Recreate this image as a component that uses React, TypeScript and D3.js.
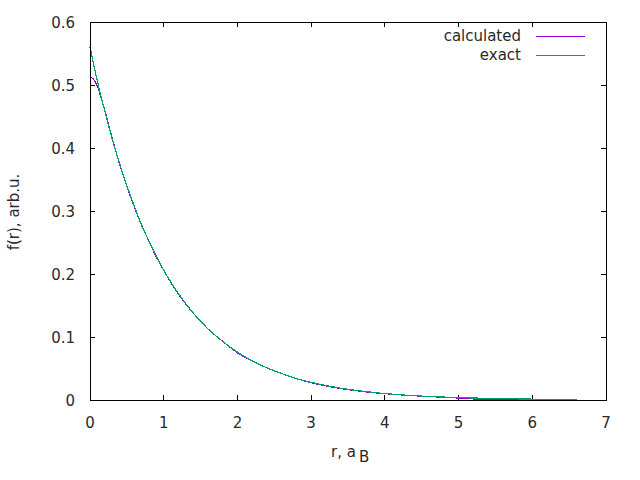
import { useEffect, useRef } from "react";
import * as d3 from "d3";

// r values (a_B) and curves
const rExact = [
  0, 0.1, 0.2, 0.3, 0.4, 0.5, 0.6, 0.7, 0.8, 0.9, 1.0, 1.2, 1.4, 1.6, 1.8, 2.0,
  2.2, 2.4, 2.6, 2.8, 3.0, 3.4, 3.8, 4.2, 4.6, 5.0, 5.5, 6.0, 6.6,
];
const fExact = [
  0.56, 0.506, 0.459, 0.415, 0.376, 0.34, 0.308, 0.278, 0.252, 0.228, 0.206,
  0.169, 0.138, 0.113, 0.093, 0.076, 0.062, 0.051, 0.042, 0.034, 0.028, 0.0188,
  0.0126, 0.0084, 0.0056, 0.0038, 0.0023, 0.0014, 0.0008,
];

const rCalc = [
  0, 0.03, 0.06, 0.1, 0.15, 0.2, 0.3, 0.4, 0.5, 0.6, 0.7, 0.8, 0.9, 1.0, 1.2,
  1.4, 1.6, 1.8, 2.0, 2.2, 2.4, 2.6, 2.9, 3.4, 3.8, 4.2, 4.6, 4.95, 5.4, 6.0,
  6.6,
];
const fCalc = [
  0.512, 0.511, 0.507, 0.498, 0.48, 0.46, 0.416, 0.375, 0.339, 0.307, 0.277,
  0.252, 0.227, 0.206, 0.168, 0.138, 0.113, 0.093, 0.075, 0.062, 0.051, 0.042,
  0.0305, 0.0182, 0.0122, 0.0082, 0.0055, 0.0034, 0.0008, 0.0006, 0.0005,
];

const xTicks = [0, 1, 2, 3, 4, 5, 6, 7];
const yTicks = [0, 0.1, 0.2, 0.3, 0.4, 0.5, 0.6];

const seriesNames = ["calculated", "exact"];
const seriesColors = ["#9400d3", "#009e73"];

const font = "'DejaVu Sans', sans-serif";

const Chart = () => {
  const chartRef = useRef<SVGSVGElement | null>(null);

  useEffect(() => {
    const svg = d3.select(chartRef.current).attr("width", 640).attr("height", 480);
    svg.selectAll("*").remove();

    const left = 90, right = 606, top = 22, bottom = 400;

    const x = d3.scaleLinear().domain([0, 7]).range([left, right]);
    const y = d3.scaleLinear().domain([0, 0.6]).range([bottom, top]);

    svg.append("rect").attr("width", 640).attr("height", 480).attr("fill", "#fff");

    const tickLen = 5;
    const axes = svg.append("g").attr("stroke", "#000").attr("stroke-width", 1)
      .attr("shape-rendering", "crispEdges");

    xTicks.forEach((t) => {
      axes.append("line").attr("x1", x(t)).attr("x2", x(t))
        .attr("y1", bottom).attr("y2", bottom - tickLen);
      axes.append("line").attr("x1", x(t)).attr("x2", x(t))
        .attr("y1", top).attr("y2", top + tickLen);
    });
    yTicks.forEach((t) => {
      axes.append("line").attr("x1", left).attr("x2", left + tickLen)
        .attr("y1", y(t)).attr("y2", y(t));
      axes.append("line").attr("x1", right).attr("x2", right - tickLen)
        .attr("y1", y(t)).attr("y2", y(t));
    });

    const text = svg.append("g").attr("font-family", font).attr("font-size", 15)
      .attr("fill", "#2a2a2a");

    text.selectAll(".xt").data(xTicks).enter().append("text")
      .attr("x", (d) => x(d)).attr("y", 428).attr("text-anchor", "middle")
      .text((d) => d3.format("d")(d));

    text.selectAll(".yt").data(yTicks).enter().append("text")
      .attr("x", 75).attr("y", (d) => y(d) + 5.5).attr("text-anchor", "end")
      .text((d) => (d === 0 ? "0" : d3.format(".1f")(d)));

    const xl = text.append("text").attr("x", 331).attr("y", 457);
    xl.append("tspan").text("r, a");
    xl.append("tspan").attr("dx", 3).attr("dy", 5).text("B");

    text.append("text")
      .attr("transform", "translate(19,212) rotate(-90)")
      .attr("text-anchor", "middle")
      .text("f(r), arb.u.");

    const line = d3.line<[number, number]>()
      .x((d) => x(d[0])).y((d) => y(d[1])).curve(d3.curveMonotoneX);

    const calc = rCalc.map((r, i) => [r, fCalc[i]] as [number, number]);
    const exact = rExact.map((r, i) => [r, fExact[i]] as [number, number]);

    [calc, exact].forEach((pts, i) => {
      svg.append("path").attr("d", line(pts)).attr("fill", "none")
        .attr("stroke", seriesColors[i]).attr("stroke-width", 1.2)
        .attr("shape-rendering", "crispEdges");
    });

    // legend
    seriesNames.forEach((name, i) => {
      const ly = 36 + i * 19;
      text.append("text").attr("x", 521).attr("y", ly + 5).attr("text-anchor", "end")
        .text(name);
      svg.append("line").attr("x1", 536).attr("x2", 585).attr("y1", ly).attr("y2", ly)
        .attr("stroke", seriesColors[i]).attr("stroke-width", 1)
        .attr("shape-rendering", "crispEdges");
    });

    svg.append("rect").attr("x", left).attr("y", top)
      .attr("width", right - left).attr("height", bottom - top)
      .attr("fill", "none").attr("stroke", "#000").attr("stroke-width", 1)
      .attr("shape-rendering", "crispEdges");
  }, []);

  return <svg ref={chartRef} style={{ display: "block" }}></svg>;
};

export default function App() {
  return (
    <div style={{ position: "fixed", left: 0, top: 0 }}>
      <Chart />
    </div>
  );
}
